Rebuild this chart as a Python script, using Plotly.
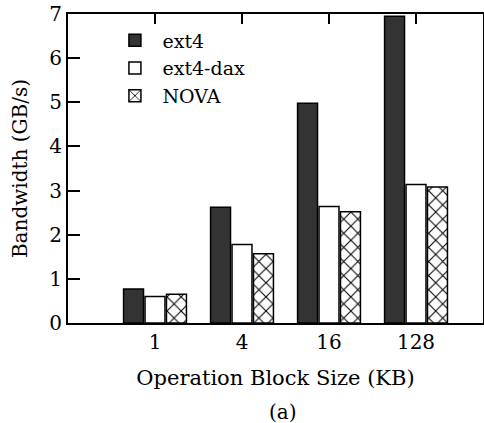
import plotly.graph_objects as go

categories = ["1", "4", "16", "128"]
ext4 = [0.77, 2.62, 4.98, 6.95]
ext4_dax = [0.60, 1.78, 2.64, 3.14]
nova = [0.65, 1.57, 2.52, 3.08]

xpos = list(range(1, len(categories) + 1))
FONT = "DejaVu Serif, serif"

fig = go.Figure()
fig.add_trace(go.Bar(x=xpos, y=ext4, name="ext4",
                     marker=dict(color="#333333", line=dict(color="black", width=1.5))))
fig.add_trace(go.Bar(x=xpos, y=ext4_dax, name="ext4-dax",
                     marker=dict(color="white", line=dict(color="black", width=1.5))))
fig.add_trace(go.Bar(x=xpos, y=nova, name="NOVA",
                     marker=dict(color="white", line=dict(color="black", width=1.5),
                                 pattern=dict(shape="x", size=10, solidity=0.2,
                                              fgcolor="black", bgcolor="white",
                                              fgopacity=1))))

fig.update_layout(
    width=484, height=423,
    margin=dict(l=68, r=1, t=14, b=100, autoexpand=False),
    paper_bgcolor="white", plot_bgcolor="white",
    barmode="group", bargap=0.26, bargroupgap=0.07,
    font=dict(family=FONT, size=20, color="black"),
    showlegend=True,
    legend=dict(x=0.095, y=0.976, xanchor="left", yanchor="top",
                bgcolor="rgba(0,0,0,0)", font=dict(family=FONT, size=19), itemwidth=45,
                tracegroupgap=0),
    annotations=[dict(text="(a)", x=0.517, y=-0.288, xref="paper", yref="paper",
                      showarrow=False, font=dict(family=FONT, size=20),
                      xanchor="center", yanchor="middle")],
)
fig.update_xaxes(range=[0, 4.77], tickmode="array", tickvals=xpos, ticktext=categories,
                 ticks="inside", ticklen=10, tickwidth=1.5, tickcolor="black",
                 mirror="ticks", showline=True, linecolor="black", linewidth=2,
                 showgrid=False, zeroline=False, layer="below traces", automargin=False,
                 title=dict(text="Operation Block Size (KB)", standoff=17,
                            font=dict(family=FONT, size=21)),
                 tickfont=dict(family=FONT, size=20))
fig.update_yaxes(range=[0, 7], dtick=1, ticks="inside", ticklen=12, tickwidth=1.5,
                 tickcolor="black", mirror=True, showline=True, linecolor="black",
                 linewidth=2, showgrid=False, zeroline=False, automargin=False,
                 ticklabeloverflow="allow",
                 title=dict(text="Bandwidth (GB/s)", standoff=16,
                            font=dict(family=FONT, size=20)),
                 tickfont=dict(family=FONT, size=20))
fig.write_html("out.html", config={"displayModeBar": False},
               post_script="document.body.style.margin='0';document.body.style.padding='0';")
